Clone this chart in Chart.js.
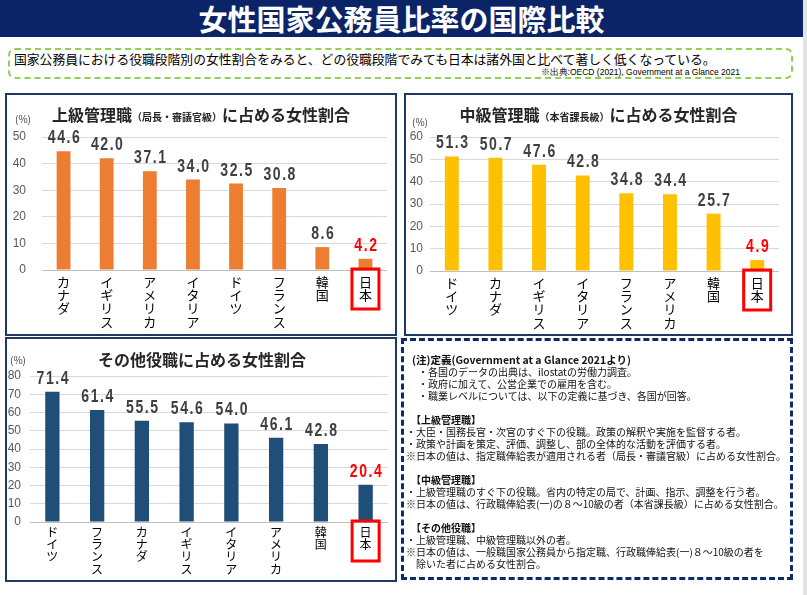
<!DOCTYPE html>
<html lang="ja">
<head>
<meta charset="utf-8">
<script src="https://cdn.jsdelivr.net/npm/chart.js@4.4.1/dist/chart.umd.min.js"></script>
<style>
  body { margin: 0; width: 807px; height: 595px; background: #fff; position: relative; overflow: hidden;
         font-family: "Noto Sans CJK JP", sans-serif; color: #000; }
  .abs { position: absolute; }
  #header { left: 0; top: 0; width: 803px; height: 37px; background: #0b2468; color: #fff;
            font-size: 29px; font-weight: bold; text-align: center; line-height: 37px; }
  #edge { left: 803px; top: 0; width: 4px; height: 595px; background: #e3e3e3; }
  #lead { left: 8px; top: 48px; width: 785px; height: 31px; box-sizing: border-box;
          border: 2px dashed #92d050; border-radius: 7px; }
  #leadText { left: 14px; top: 50px; font-size: 12.8px; line-height: 17px; white-space: nowrap; }
  #source { left: 400px; width: 340px; top: 67px; font-size: 8.5px; line-height: 11px; text-align: right;
            font-family: "Liberation Sans", sans-serif; }
  .panel { box-sizing: border-box; border: 2px solid #1f3864; }
  .title { font-weight: bold; font-size: 16px; line-height: 20px; text-align: center; color: #262626; white-space: nowrap; }
  .title small { font-size: 10px; }
  .unit { font-size: 10px; line-height: 12px; color: #404040; }
  #notes { left: 401px; top: 338px; width: 392px; height: 242px; box-sizing: border-box;
           border: 3px dashed #0d2a6b; }
  #noteText { left: 0; top: 354px; font-size: 10px; line-height: 12px; white-space: nowrap; color: #111; }
  #noteText div { height: 12px; }
  #noteText .b { font-weight: bold; }
  canvas { position: absolute; }
</style>
</head>
<body>
<div id="header" class="abs">女性国家公務員比率の国際比較</div>
<div id="edge" class="abs"></div>
<div id="lead" class="abs"></div>
<div id="leadText" class="abs">国家公務員における役職段階別の女性割合をみると、どの役職段階でみても日本は諸外国と比べて著しく低くなっている。</div>
<div id="source" class="abs">※出典:OECD (2021), Government at a Glance 2021</div>

<div class="abs panel" style="left:5px;top:93px;width:392px;height:243px;"></div>
<div class="abs panel" style="left:404px;top:93px;width:389px;height:243px;"></div>
<div class="abs panel" style="left:5px;top:337px;width:392px;height:245px;"></div>

<canvas id="upperChart" width="392" height="243" style="left:5px;top:93px;"></canvas>
<canvas id="middleChart" width="389" height="243" style="left:404px;top:93px;"></canvas>
<canvas id="otherChart" width="392" height="245" style="left:5px;top:337px;"></canvas>

<div class="abs title" style="left:5px;width:392px;top:104px;">上級管理職<small>（局長・審議官級）</small>に占める女性割合</div>
<div class="abs title" style="left:404px;width:389px;top:104px;">中級管理職<small>（本省課長級）</small>に占める女性割合</div>
<div class="abs title" style="left:5px;width:394px;top:349px;">その他役職に占める女性割合</div>
<div class="abs unit" style="left:15px;top:113px;">(%)</div>
<div class="abs unit" style="left:412px;top:116px;">(%)</div>
<div class="abs unit" style="left:10px;top:354px;">(%)</div>

<div id="notes" class="abs"></div>
<div id="noteText" class="abs">
  <div class="b" style="margin-left:412px;font-size:10.5px;">(注)定義(Government at a Glance 2021より)</div>
  <div style="margin-left:418px;">・各国のデータの出典は、ilostatの労働力調査。</div>
  <div style="margin-left:418px;">・政府に加えて、公営企業での雇用を含む。</div>
  <div style="margin-left:418px;">・職業レベルについては、以下の定義に基づき、各国が回答。</div>
  <div></div>
  <div class="b" style="margin-left:411px;">【上級管理職】</div>
  <div style="margin-left:406px;">・大臣・国務長官・次官のすぐ下の役職。政策の解釈や実施を監督する者。</div>
  <div style="margin-left:406px;">・政策や計画を策定、評価、調整し、部の全体的な活動を評価する者。</div>
  <div style="margin-left:406px;">※日本の値は、指定職俸給表が適用される者（局長・審議官級）に占める女性割合。</div>
  <div></div>
  <div class="b" style="margin-left:411px;">【中級管理職】</div>
  <div style="margin-left:406px;">・上級管理職のすぐ下の役職。省内の特定の局で、計画、指示、調整を行う者。</div>
  <div style="margin-left:406px;">※日本の値は、行政職俸給表(一)の８～10級の者（本省課長級）に占める女性割合。</div>
  <div></div>
  <div class="b" style="margin-left:411px;">【その他役職】</div>
  <div style="margin-left:406px;">・上級管理職、中級管理職以外の者。</div>
  <div style="margin-left:406px;">※日本の値は、一般職国家公務員から指定職、行政職俸給表(一)８～10級の者を</div>
  <div style="margin-left:406px;">　除いた者に占める女性割合。</div>
</div>

<script>
// 上級管理職（局長・審議官級）
var upperCountries = ["カナダ", "イギリス", "アメリカ", "イタリア", "ドイツ", "フランス", "韓国", "日本"];
var upperValues = [44.6, 42.0, 37.1, 34.0, 32.5, 30.8, 8.6, 4.2];

// 中級管理職（本省課長級）
var middleCountries = ["ドイツ", "カナダ", "イギリス", "イタリア", "フランス", "アメリカ", "韓国", "日本"];
var middleValues = [51.3, 50.7, 47.6, 42.8, 34.8, 34.4, 25.7, 4.9];

// その他役職
var otherCountries = ["ドイツ", "フランス", "カナダ", "イギリス", "イタリア", "アメリカ", "韓国", "日本"];
var otherValues = [71.4, 61.4, 55.5, 54.6, 54.0, 46.1, 42.8, 20.4];

var upperTicks = [0, 10, 20, 30, 40, 50];
var middleTicks = [0, 10, 20, 30, 40, 50, 60];
var otherTicks = [0, 10, 20, 30, 40, 50, 60, 70, 80];

/**
 * 棒の上の数値と、日本のラベルを囲む赤枠
 */
var barLabels = {
  id: "barLabels",
  afterDatasetsDraw: function (chart) {
    var ctx = chart.ctx;
    var values = chart.data.datasets[0].data;
    var last = values.length - 1;
    chart.getDatasetMeta(0).data.forEach(function (bar, i) {
      ctx.save();
      ctx.translate(bar.x + 1, bar.y - 8);
      ctx.scale(0.78, 1);
      ctx.font = "bold 18px 'Liberation Sans'";
      ctx.letterSpacing = "2px";
      ctx.fillStyle = i === last ? "#ff0000" : "#404040";
      ctx.textAlign = "center";
      ctx.textBaseline = "alphabetic";
      ctx.fillText(values[i].toFixed(1), 0, 0);
      ctx.restore();
    });
    var x = chart.scales.x.getPixelForValue(last);
    var bottom = chart.chartArea.bottom;
    ctx.save();
    ctx.strokeStyle = "#ff0000";
    ctx.lineWidth = 3;
    ctx.strokeRect(x - 13.5, bottom - 1, 27, 40);
    ctx.restore();
  },
};

function drawChart(id, countries, values, ticks, color, box) {
  new Chart(document.getElementById(id), {
    type: "bar",
    data: {
      labels: countries.map(function (c) { return c.split(""); }),
      datasets: [
        {
          data: values,
          backgroundColor: color,
          barPercentage: 1,
          categoryPercentage: 0.32,
        },
      ],
    },
    options: {
      responsive: false,
      animation: false,
      layout: {
        padding: { top: box.top, right: box.right, bottom: box.bottom, left: 0 },
      },
      scales: {
        x: {
          grid: { display: false },
          border: { display: false },
          ticks: {
            color: "#000",
            autoSkip: false,
            maxRotation: 0,
            padding: box.labelPad,
            font: { family: "Noto Sans CJK JP", size: box.labelSize, lineHeight: 1.03 },
          },
          afterFit: function (scale) { scale.height = box.axis; },
        },
        y: {
          min: 0,
          max: ticks[ticks.length - 1],
          afterBuildTicks: function (scale) {
            scale.ticks = ticks.map(function (v) { return { value: v }; });
          },
          border: { display: false },
          grid: {
            drawTicks: false,
            color: function (c) { return c.tick && c.tick.value === 0 ? "#bfbfbf" : "#d9d9d9"; },
          },
          ticks: {
            color: "#595959",
            padding: box.tickPad,
            font: { family: "Liberation Sans", size: 12 },
          },
          afterFit: function (scale) { scale.width = box.left; },
        },
      },
      plugins: {
        legend: { display: false },
        tooltip: { enabled: false },
      },
    },
    plugins: [barLabels],
  });
}

document.addEventListener("DOMContentLoaded", function () {
  drawChart("upperChart", upperCountries, upperValues, upperTicks, "#ed7d31",
    { top: 44, right: 10, bottom: 6, axis: 60, left: 37, tickPad: 16, labelPad: -3, labelSize: 13 });
  drawChart("middleChart", middleCountries, middleValues, middleTicks, "#ffc000",
    { top: 44, right: 14, bottom: 5, axis: 60, left: 26, tickPad: 7, labelPad: -3, labelSize: 13 });
  drawChart("otherChart", otherCountries, otherValues, otherTicks, "#1f4e79",
    { top: 39, right: 9, bottom: 5, axis: 55, left: 25, tickPad: 9, labelPad: -4, labelSize: 12 });
});
</script>
</body>
</html>
